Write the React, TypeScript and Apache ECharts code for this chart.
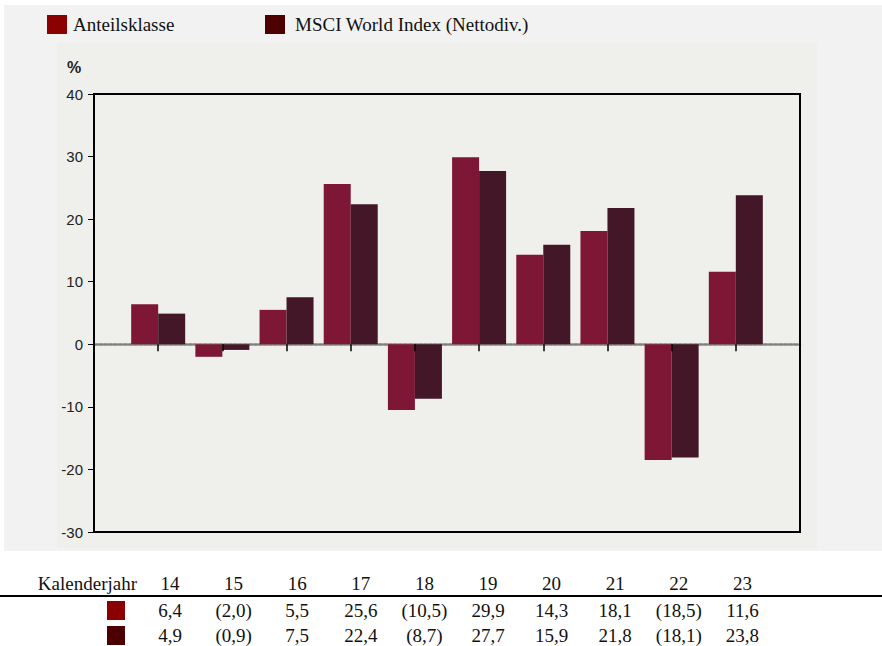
import React, { useEffect, useRef } from "react";
import * as echarts from "echarts";

const years = ["14", "15", "16", "17", "18", "19", "20", "21", "22", "23"];
const anteilsklasse = [6.4, -2.0, 5.5, 25.6, -10.5, 29.9, 14.3, 18.1, -18.5, 11.6];
const msciWorld = [4.9, -0.9, 7.5, 22.4, -8.7, 27.7, 15.9, 21.8, -18.1, 23.8];
const seriesNames = ["Anteilsklasse", "MSCI World Index (Nettodiv.)"];
const yTicks = { min: -30, max: 40, interval: 10 };

const barColors = ["#7e1735", "#431628"];
const legendColors = ["#8b0000", "#4d0000"];

const GRID = { left: 94, top: 94, width: 706, height: 438 };
const SERIF = "'Liberation Serif', 'Times New Roman', serif";
const SANS = "'Liberation Sans', Arial, sans-serif";

function fmt(v: number): string {
  const s = Math.abs(v).toFixed(1).replace(".", ",");
  return v < 0 ? `(${s})` : s;
}

export default function App() {
  const ref = useRef<HTMLDivElement>(null);
  useEffect(() => {
    if (!ref.current) return;
    const chart = echarts.init(ref.current, undefined, { renderer: "svg" });
    const cats = ["", ...years, ""];
    const colStart = 170;
    const colStep = 63.6;

    const tableTexts: any[] = [];
    tableTexts.push({
      type: "text",
      x: 137,
      y: 583,
      style: { text: "Kalenderjahr", font: `19px ${SERIF}`, fill: "#111", align: "right", verticalAlign: "middle" },
    });
    years.forEach((y, i) => {
      tableTexts.push({
        type: "text",
        x: colStart + i * colStep,
        y: 583,
        style: { text: y, font: `19px ${SERIF}`, fill: "#111", align: "center", verticalAlign: "middle" },
      });
    });
    [anteilsklasse, msciWorld].forEach((arr, r) => {
      const ry = 610 + r * 25;
      tableTexts.push({
        type: "rect",
        shape: { x: 107, y: ry - 9, width: 18, height: 19 },
        style: { fill: legendColors[r] },
      });
      arr.forEach((v, i) => {
        tableTexts.push({
          type: "text",
          x: colStart + i * colStep,
          y: ry,
          style: { text: fmt(v), font: `19px ${SERIF}`, fill: "#111", align: "center", verticalAlign: "middle" },
        });
      });
    });

    chart.setOption({
      animation: false,
      backgroundColor: "#ffffff",
      legend: [0, 1].map((i) => ({
        left: i === 0 ? 47 : 265,
        top: 15,
        padding: 0,
        itemWidth: 20,
        itemHeight: 19,
        icon: "rect",
        selectedMode: false,
        data: [{ name: seriesNames[i], itemStyle: { color: legendColors[i] } }],
        textStyle: {
          fontFamily: SERIF,
          fontSize: 19,
          color: "#111",
          padding: i === 0 ? [0, 0, 0, 1] : [0, 0, 0, 5],
        },
      })),
      grid: { ...GRID, show: false },
      xAxis: [
        {
          type: "category",
          data: cats,
          boundaryGap: false,
          axisLine: { onZero: true, lineStyle: { color: "#808080", width: 2.5, type: [3, 2] } },
          axisTick: { show: false },
          axisLabel: { show: false },
          splitLine: { show: false },
          z: 0,
        },
        {
          type: "category",
          data: cats,
          boundaryGap: false,
          position: "bottom",
          axisLine: { show: false, onZero: true, onZeroAxisIndex: 1 },
          axisTick: { show: true, length: 7, interval: 0, lineStyle: { color: "#000", width: 1.5 } },
          axisLabel: { show: false },
          splitLine: { show: false },
          z: 10,
        },
      ],
      yAxis: [
        {
          type: "value",
          ...yTicks,
          axisLine: { show: false },
          axisTick: { show: true, length: 6, lineStyle: { color: "#000", width: 1 } },
          axisLabel: { fontFamily: SANS, fontSize: 15, color: "#222", margin: 11 },
          splitLine: { show: false },
        },
        {
          type: "value",
          ...yTicks,
          show: false,
          splitLine: { show: false },
        },
      ],
      series: [anteilsklasse, msciWorld].map((arr, i) => ({
        name: seriesNames[i],
        type: "bar",
        xAxisIndex: 0,
        yAxisIndex: 0,
        data: [null, ...arr, null],
        barWidth: 27,
        barGap: "0%",
        itemStyle: { color: barColors[i] },
        z: 2,
      })),
      graphic: [
        {
          type: "rect",
          z: -20,
          shape: { x: 4, y: 5, width: 878, height: 546 },
          style: { fill: "#f2f2f2" },
        },
        {
          type: "rect",
          z: -19,
          shape: { x: 57, y: 43, width: 760, height: 505 },
          style: { fill: "#efefeb" },
        },
        {
          type: "rect",
          z: 20,
          shape: { x: GRID.left, y: GRID.top, width: GRID.width, height: GRID.height },
          style: { fill: "none", stroke: "#000", lineWidth: 2 },
        },
        {
          type: "text",
          x: 74,
          y: 67,
          style: { text: "%", font: `bold 16px ${SANS}`, fill: "#222", align: "center", verticalAlign: "middle" },
        },
        {
          type: "line",
          shape: { x1: 0, y1: 596, x2: 882, y2: 596 },
          style: { stroke: "#000", lineWidth: 2 },
        },
        ...tableTexts,
      ],
    });
    return () => chart.dispose();
  }, []);
  return (
    <div
      ref={ref}
      style={{ position: "absolute", left: 0, top: 0, width: 882, height: 646 }}
    />
  );
}
